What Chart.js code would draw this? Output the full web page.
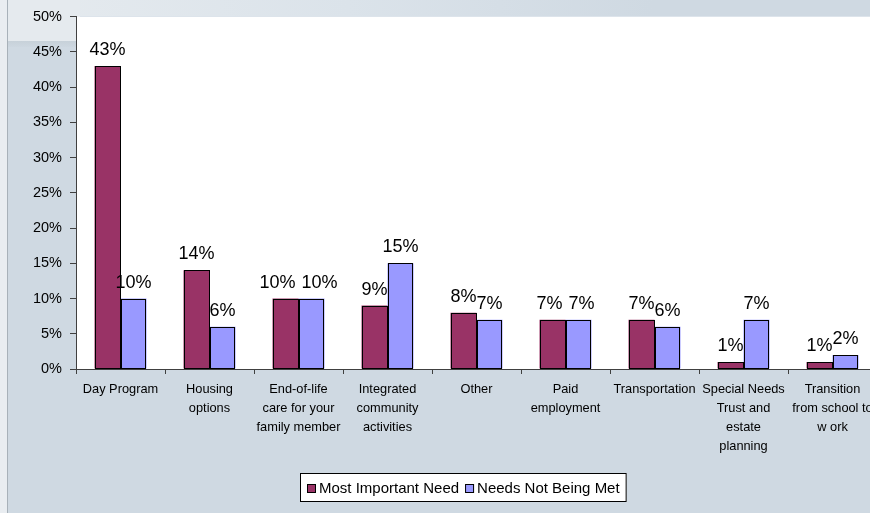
<!DOCTYPE html>
<html>
<head>
<meta charset="utf-8">
<script src="https://cdn.jsdelivr.net/npm/chart.js@4"></script>
<style>
  html, body { margin:0; padding:0; width:870px; height:513px; overflow:hidden; background:#cfd9e2; }
  #wrap { position:relative; width:870px; height:513px; overflow:hidden; }
  .bg { position:absolute; }
  canvas { position:absolute; left:0; top:0; }
</style>
</head>
<body>
<div id="wrap">
  <div class="bg" style="left:0;top:0;width:870px;height:16px;background:linear-gradient(to right,#e6ebef 0%,#dbe3ea 40%,#cfd9e2 75%);"></div>
  <div class="bg" style="left:0;top:0;width:80px;height:42px;background:#e5eaee;"></div>
  <div class="bg" style="left:0;top:41px;width:80px;height:6px;background:linear-gradient(to bottom,#c7d1d9,#cdd7e0);"></div>
  <div class="bg" style="left:0;top:0;width:7px;height:513px;background:#e9edf1;border-right:1px solid #a8b1b9;"></div>
  <canvas id="c" width="880" height="513" style="width:880px;height:513px;"></canvas>
</div>
<script>
const categories = [
  "Day Program",
  ["Housing","options"],
  ["End-of-life","care for your","family member"],
  ["Integrated","community","activities"],
  "Other",
  ["Paid","employment"],
  "Transportation",
  ["Special Needs","Trust and","estate","planning"],
  ["Transition","from school to","w ork"]
];
const mostImportantNeed = [43, 14, 10, 9, 8, 7, 7, 1, 1];
const needsNotBeingMet  = [10, 6, 10, 15, 7, 7, 6, 7, 2];
const seriesNames = ["Most Important Need", "Needs Not Being Met"];
const yTicks = [0, 5, 10, 15, 20, 25, 30, 35, 40, 45, 50];

const FONT = "'Liberation Sans', Arial, sans-serif";

const plotBg = {
  id: 'plotBg',
  beforeDraw(chart) {
    const {ctx, chartArea: a} = chart;
    ctx.save();
    ctx.fillStyle = '#ffffff';
    ctx.fillRect(a.left, a.top, a.right - a.left, a.bottom - a.top);
    ctx.restore();
  }
};

const barOutlines = {
  id: 'barOutlines',
  afterDatasetsDraw(chart) {
    const ctx = chart.ctx;
    ctx.save();
    ctx.strokeStyle = '#000';
    ctx.lineWidth = 1;
    chart.data.datasets.forEach((ds, i) => {
      chart.getDatasetMeta(i).data.forEach(bar => {
        const p = bar.getProps(['x', 'y', 'base', 'width'], true);
        const l = Math.round(p.x - p.width / 2) + 0.5;
        const r = Math.round(p.x + p.width / 2) - 0.5;
        const t = Math.round(p.y) + 0.5;
        const b = Math.round(p.base) - 0.5;
        ctx.strokeRect(l, t, r - l, b - t);
      });
    });
    ctx.restore();
  }
};

const valueLabels = {
  id: 'valueLabels',
  afterDatasetsDraw(chart) {
    const ctx = chart.ctx;
    ctx.save();
    ctx.font = "18px " + FONT;
    ctx.fillStyle = '#000';
    ctx.textAlign = 'center';
    ctx.textBaseline = 'alphabetic';
    const m0 = chart.getDatasetMeta(0).data, m1 = chart.getDatasetMeta(1).data;
    const d0 = chart.data.datasets[0].data, d1 = chart.data.datasets[1].data;
    for (let j = 0; j < m0.length; j++) {
      const t0 = d0[j] + '%', t1 = d1[j] + '%';
      let x0 = m0[j].x, x1 = m1[j].x;
      const y0 = m0[j].y - 11, y1 = m1[j].y - 11;
      const w0 = ctx.measureText(t0).width, w1 = ctx.measureText(t1).width;
      if (Math.abs(y0 - y1) < 5) {
        const need = (w0 + w1) / 2 + 6 - (x1 - x0);
        if (need > 0) { x0 -= need / 2; x1 += need / 2; }
      }
      ctx.fillText(t0, x0, y0);
      ctx.fillText(t1, x1, y1);
    }
    ctx.restore();
  }
};

const boxLegend = {
  id: 'boxLegend',
  afterDraw(chart) {
    const ctx = chart.ctx;
    ctx.save();
    ctx.font = "15px " + FONT;
    const x0 = 300, y0 = 473, h = 29;
    const sq = 9, gap = 3, between = 6, padL = 7;
    let w = padL;
    const items = chart.data.datasets.map(ds => ({label: ds.label, color: ds.backgroundColor, tw: ctx.measureText(ds.label).width}));
    items.forEach((it, i) => { w += sq + gap + it.tw + (i < items.length - 1 ? between : 0); });
    w += 7;
    ctx.fillStyle = '#fff';
    ctx.fillRect(x0, y0, w, h);
    ctx.strokeStyle = '#000';
    ctx.lineWidth = 1;
    ctx.strokeRect(x0 + 0.5, y0 + 0.5, w - 1, h - 1);
    let x = x0 + padL;
    const cy = y0 + h / 2;
    ctx.textBaseline = 'middle';
    ctx.textAlign = 'left';
    items.forEach(it => {
      ctx.fillStyle = it.color;
      ctx.fillRect(x, cy - sq / 2 + 1, sq, sq);
      ctx.strokeStyle = '#000';
      ctx.strokeRect(x + 0.5, cy - sq / 2 + 1.5, sq - 1, sq - 1);
      x += sq + gap;
      ctx.fillStyle = '#000';
      ctx.fillText(it.label, x, cy + 1);
      x += it.tw + between;
    });
    ctx.restore();
  }
};

new Chart(document.getElementById('c'), {
  type: 'bar',
  data: {
    labels: categories,
    datasets: [
      { label: seriesNames[0], data: mostImportantNeed, backgroundColor: '#993366', borderWidth: 0 },
      { label: seriesNames[1], data: needsNotBeingMet, backgroundColor: '#9999ff', borderWidth: 0 }
    ]
  },
  options: {
    responsive: false,
    animation: false,
    devicePixelRatio: 1,
    layout: { padding: { left: 0, top: 13, right: 3, bottom: 44 } },
    datasets: { bar: { categoryPercentage: 0.584, barPercentage: 1.0 } },
    plugins: { legend: { display: false }, tooltip: { enabled: false } },
    scales: {
      x: {
        grid: { drawOnChartArea: false, drawTicks: true, tickLength: 5, color: '#404040', offset: true },
        border: { display: true, color: '#404040', width: 1 },
        ticks: { autoSkip: false, maxRotation: 0, minRotation: 0, color: '#000', padding: 6,
                 font: { family: FONT, size: 12.8, lineHeight: 1.48 } },
        afterFit(scale) { scale.height = 100; }
      },
      y: {
        min: 0, max: 50,
        afterBuildTicks(scale) { scale.ticks = yTicks.map(v => ({ value: v })); },
        grid: { drawOnChartArea: false, drawTicks: true, tickLength: 6, color: '#404040' },
        border: { display: true, color: '#404040', width: 1 },
        ticks: { color: '#000', padding: 8, font: { family: FONT, size: 14.5 },
                 callback: v => v + '%' },
        afterFit(scale) { scale.width = 76; }
      }
    }
  },
  plugins: [plotBg, barOutlines, valueLabels, boxLegend]
});
</script>
</body>
</html>
